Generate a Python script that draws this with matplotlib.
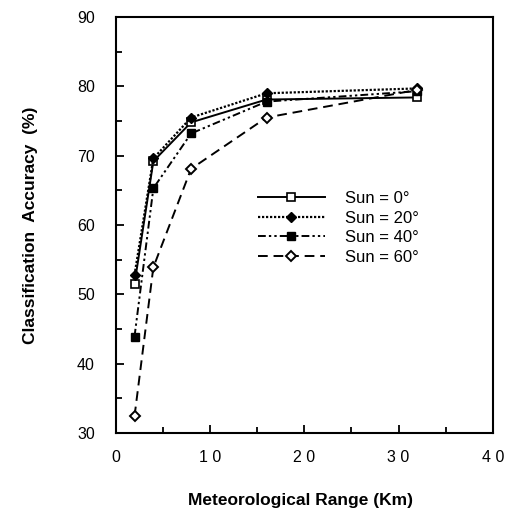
import matplotlib

matplotlib.use("Agg")
import matplotlib.pyplot as plt
from matplotlib.ticker import FixedLocator, FixedFormatter, MultipleLocator

plt.rcParams["font.family"] = ["Liberation Sans", "DejaVu Sans"]

range_km = [2, 4, 8, 16, 32]
sun_0 = [51.5, 69.2, 74.8, 78.1, 78.4]
sun_20 = [52.8, 69.6, 75.5, 79.0, 79.7]
sun_40 = [43.9, 65.3, 73.2, 77.8, 79.3]
sun_60 = [32.4, 53.9, 68.1, 75.5, 79.5]
labels = ["Sun = 0°", "Sun = 20°", "Sun = 40°", "Sun = 60°"]
x_ticks = [0, 10, 20, 30, 40]
x_tick_labels = ["0", "1 0", "2 0", "3 0", "4 0"]

fig = plt.figure(figsize=(5.05, 5.16), dpi=100)
ax = fig.add_axes([0.229, 0.161, 0.747, 0.806])

ink = "black"
ax.plot(range_km, sun_0, color=ink, lw=1.4, ls="-", marker="s", ms=5.5,
        mfc="white", mec=ink, mew=1.2, label=labels[0])
ax.plot(range_km, sun_20, color=ink, lw=1.6, ls=(0, (1, 0.8)), marker="D", ms=5,
        mfc=ink, mec=ink, label=labels[1])
ax.plot(range_km, sun_40, color=ink, lw=1.4, ls=(0, (4, 1.6, 1.2, 1.6, 1.2, 1.6)),
        marker="s", ms=6, mfc=ink, mec=ink, label=labels[2])
ax.plot(range_km, sun_60, color=ink, lw=1.4, ls=(0, (5, 3)), marker="D", ms=5,
        mfc="white", mec=ink, mew=1.4, label=labels[3])

ax.set_xlim(0, 40)
ax.set_ylim(30, 90)
ax.xaxis.set_major_locator(FixedLocator(x_ticks))
ax.xaxis.set_major_formatter(FixedFormatter(x_tick_labels))
ax.xaxis.set_minor_locator(MultipleLocator(5))
ax.yaxis.set_major_locator(MultipleLocator(10))
ax.yaxis.set_minor_locator(MultipleLocator(5))
ax.tick_params(which="both", direction="in", top=False, right=False, width=1.3)
ax.tick_params(which="major", length=6, labelsize=11.5)
ax.tick_params(axis="x", which="major", pad=12)
ax.tick_params(axis="y", which="major", pad=15)
ax.tick_params(which="minor", length=4)
for s in ax.spines.values():
    s.set_linewidth(1.5)

leg = ax.legend(loc="upper left", bbox_to_anchor=(0.355, 0.602), frameon=False,
                fontsize=12, handlelength=4.0, handletextpad=1.25, labelspacing=0.28,
                borderpad=0)

fig.text(0.06, 0.563, "Classification  Accuracy  (%)", rotation=90, ha="center",
         va="center", fontsize=12.5, fontweight="bold")
fig.text(0.595, 0.030, "Meteorological Range (Km)", ha="center", va="center",
         fontsize=12.5, fontweight="bold")

fig.savefig("out.png", dpi=100)
